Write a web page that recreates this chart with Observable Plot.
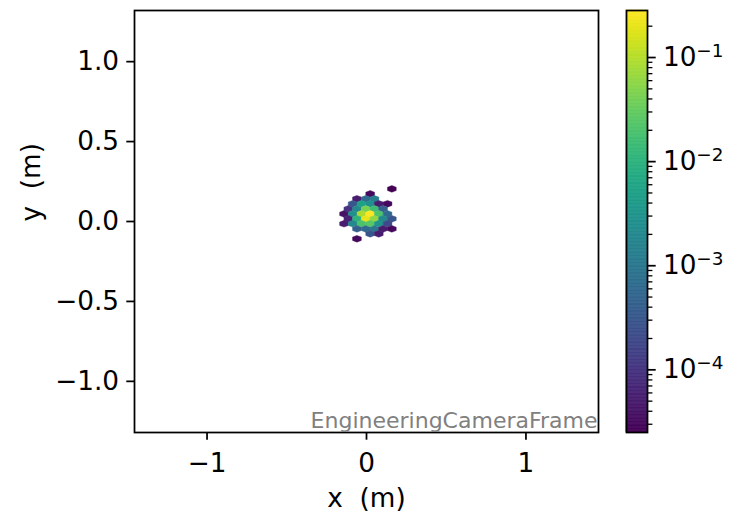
<!DOCTYPE html>
<html>
<head>
<meta charset="utf-8">
<script src="https://cdn.jsdelivr.net/npm/d3@7"></script>
<script src="https://cdn.jsdelivr.net/npm/@observablehq/plot@0.6"></script>
<style>
  html, body { margin: 0; padding: 0; background: #fff; }
  #wrap { position: relative; width: 738px; height: 513px; overflow: hidden; background: #fff; }
  #wrap svg { position: absolute; top: 0; }
  svg text { white-space: pre; }
</style>
</head>
<body>
<div id="wrap"></div>
<script>
// ---- Data: hexbin cells (centre in metres, normalised fraction) ----
const hexX = [
  0.159,
  0.023,
  -0.060, -0.005, 0.050,
  -0.087, -0.032, 0.023, 0.077, 0.132,
  -0.114, -0.060, -0.005, 0.050, 0.104,
  -0.141, -0.087, -0.032, 0.023, 0.077, 0.132,
  -0.114, -0.060, -0.005, 0.050, 0.104, 0.159,
  -0.141, -0.087, -0.032, 0.023, 0.077, 0.132,
  -0.060, -0.005, 0.050, 0.104, 0.159,
  0.023, 0.077,
  -0.060
];
const hexY = [
  0.204,
  0.173,
  0.142, 0.142, 0.142,
  0.111, 0.111, 0.111, 0.111, 0.111,
  0.079, 0.079, 0.079, 0.079, 0.079,
  0.048, 0.048, 0.048, 0.048, 0.048, 0.048,
  0.017, 0.017, 0.017, 0.017, 0.017, 0.017,
  -0.014, -0.014, -0.014, -0.014, -0.014, -0.014,
  -0.046, -0.046, -0.046, -0.046, -0.046,
  -0.077, -0.077,
  -0.108
];
const hexValue = [
  2.5e-5,
  3.0e-5,
  5e-5, 6e-4, 1.3e-3,
  3e-4, 5e-3, 2.5e-3, 5e-5, 3e-5,
  1e-4, 2e-3, 4e-2, 1.5e-2, 4e-4,
  4e-5, 2.5e-3, 9e-2, 0.283, 2e-2, 6e-4,
  6e-5, 1e-2, 0.2, 6e-2, 2e-3, 3e-4,
  5e-5, 2e-3, 2e-2, 2.5e-2, 3e-3, 2e-4,
  4e-4, 6e-4, 1e-3, 5e-5, 3e-5,
  3e-4, 5e-5,
  3e-5
];
const colorDomain = [2.5e-5, 0.283];
const xTicks = [-1, 0, 1];
const yTicks = [-1, -0.5, 0, 0.5, 1];
const cbMajorTicks = [1e-4, 1e-3, 1e-2, 1e-1];
const cbMinorTicks = [3e-5,4e-5,5e-5,6e-5,7e-5,8e-5,9e-5,
  2e-4,3e-4,4e-4,5e-4,6e-4,7e-4,8e-4,9e-4,
  2e-3,3e-3,4e-3,5e-3,6e-3,7e-3,8e-3,9e-3,
  2e-2,3e-2,4e-2,5e-2,6e-2,7e-2,8e-2,9e-2,
  2e-1];
const caption = "EngineeringCameraFrame";
const xLabel = "x  (m)";
const yLabel = "y  (m)";

const cells = hexX.map((x, i) => ({x, y: hexY[i], v: hexValue[i]}));

// pointy-top hexagon, flattened like matplotlib's hexbin cells
const hexSymbol = {
  draw(ctx, size) {
    const r = Math.sqrt(size / Math.PI);
    const t = r * 0.766, s = r * 0.383;
    ctx.moveTo(0, -t); ctx.lineTo(r, -s); ctx.lineTo(r, s);
    ctx.lineTo(0, t); ctx.lineTo(-r, s); ctx.lineTo(-r, -s); ctx.closePath();
  }
};

const FS = 26.3;
const font = {fontFamily: "'DejaVu Sans', sans-serif", fontSize: FS + "px", color: "black", background: "transparent", overflow: "visible"};
const colorScale = {type: "log", scheme: "viridis", domain: colorDomain};

const main = Plot.plot({
  width: 738, height: 513,
  marginLeft: 134, marginRight: 140, marginTop: 10, marginBottom: 81,
  x: {domain: [-1.455, 1.455]},
  y: {domain: [-1.32, 1.32]},
  color: colorScale,
  style: font,
  marks: [
    Plot.dot(cells, {x: "x", y: "y", fill: "v", stroke: "v", strokeWidth: 0.4, r: 4.4, symbol: hexSymbol}),
    Plot.frame({stroke: "black", strokeWidth: 1.75}),
    Plot.axisX(xTicks, {tickSize: 7.7, strokeWidth: 1.75, tickPadding: 13, label: null, fontSize: FS, tickFormat: d3.format("d")}),
    Plot.axisY(yTicks, {tickSize: 7.7, strokeWidth: 1.75, tickPadding: 7.7, label: null, fontSize: FS, tickFormat: d3.format(".1f")}),
    Plot.text([caption], {text: d => d, frameAnchor: "bottom-right", textAnchor: "end", lineAnchor: "bottom", dx: -1, dy: -5, fill: "#808080", fontSize: 22}),
    Plot.text([xLabel], {text: d => d, frameAnchor: "bottom", lineAnchor: "bottom", dy: 74, fontSize: FS}),
    Plot.text([yLabel], {text: d => d, frameAnchor: "left", lineAnchor: "bottom", rotate: -90, dx: -94.5, fontSize: FS})
  ]
});

// colour bar gradient stops (log-spaced between the colour domain ends)
const nStops = 300;
const l0 = Math.log10(colorDomain[0]), l1 = Math.log10(colorDomain[1]);
const stops = d3.range(nStops).map(i => ({
  lo: Math.pow(10, l0 + (l1 - l0) * i / nStops),
  hi: Math.pow(10, l0 + (l1 - l0) * (i + 1) / nStops),
  mid: Math.pow(10, l0 + (l1 - l0) * (i + 0.5) / nStops)
}));

const cb = Plot.plot({
  width: 112, height: 513,
  marginLeft: 0, marginRight: 91, marginTop: 10, marginBottom: 81,
  x: {domain: [0, 1], axis: null},
  y: {type: "log", domain: colorDomain, label: null, axis: null},
  color: colorScale,
  style: font,
  marks: [
    Plot.rect(stops, {x1: 0, x2: 1, y1: "lo", y2: "hi", fill: "mid", stroke: "mid", strokeWidth: 0.6, inset: 0}),
    Plot.frame({stroke: "black", strokeWidth: 1.75}),
    Plot.axisY(cbMinorTicks, {anchor: "right", tickSize: 4.4, strokeWidth: 1.3, tickFormat: () => "", label: null}),
    Plot.axisY(cbMajorTicks, {anchor: "right", tickSize: 7.7, strokeWidth: 1.75, tickPadding: 7.7, fontSize: FS, label: null,
      tickFormat: d => "10^" + Math.round(Math.log10(d))})
  ]
});

// render exponents as superscripts
cb.querySelectorAll("text").forEach(t => {
  const s = t.textContent;
  if (s.startsWith("10^")) {
    const e = s.slice(3).replace("-", "\u2212");
    t.textContent = "10";
    const ts = document.createElementNS("http://www.w3.org/2000/svg", "tspan");
    ts.setAttribute("dy", "-9");
    ts.setAttribute("font-size", "18.4");
    ts.textContent = e;
    t.appendChild(ts);
  }
});

const wrap = document.getElementById("wrap");
main.style.left = "0px";
cb.style.left = "626px";
wrap.appendChild(main);
wrap.appendChild(cb);
</script>
</body>
</html>
